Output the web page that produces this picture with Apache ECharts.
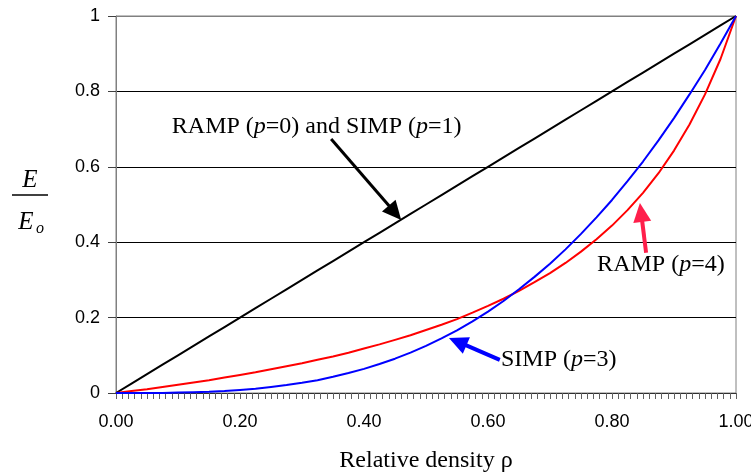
<!DOCTYPE html>
<html>
<head>
<meta charset="utf-8">
<script src="https://cdn.jsdelivr.net/npm/echarts@6/dist/echarts.min.js"></script>
<style>
html,body{margin:0;padding:0;background:#fff;}
#chart{width:751px;height:476px;}
</style>
</head>
<body>
<div id="chart"></div>
<script>
// Relative density values (x)
const rho = [0,0.025,0.05,0.075,0.1,0.125,0.15,0.175,0.2,0.225,0.25,0.275,0.3,0.325,0.35,0.375,0.4,0.425,0.45,0.475,0.5,0.525,0.55,0.575,0.6,0.625,0.65,0.675,0.7,0.725,0.75,0.775,0.8,0.825,0.85,0.875,0.9,0.925,0.95,0.975,1];
// RAMP (p=0) and SIMP (p=1) - black
const rampP0 = [0,0.025,0.05,0.075,0.1,0.125,0.15,0.175,0.2,0.225,0.25,0.275,0.3,0.325,0.35,0.375,0.4,0.425,0.45,0.475,0.5,0.525,0.55,0.575,0.6,0.625,0.65,0.675,0.7,0.725,0.75,0.775,0.8,0.825,0.85,0.875,0.9,0.925,0.95,0.975,1];
// SIMP (p=3) - blue
const simpP3 = [0,0,0,0,0.001,0.002,0.003,0.005,0.008,0.011,0.016,0.021,0.027,0.034,0.043,0.053,0.064,0.077,0.091,0.107,0.125,0.145,0.166,0.19,0.216,0.244,0.275,0.308,0.343,0.381,0.422,0.466,0.512,0.562,0.614,0.67,0.729,0.792,0.857,0.927,1];
// RAMP (p=4) - red
const rampP4 = [0,0.005,0.01,0.016,0.022,0.028,0.034,0.041,0.048,0.055,0.063,0.071,0.079,0.088,0.097,0.107,0.118,0.129,0.141,0.153,0.167,0.181,0.196,0.213,0.231,0.25,0.271,0.294,0.318,0.345,0.375,0.408,0.444,0.485,0.531,0.583,0.643,0.712,0.792,0.886,1];

// Annotations (data coordinates)
const annoTexts = [
  {pos:[0.090,0.706], text:'{n|RAMP (}{i|p}{n|=0) and SIMP (}{i|p}{n|=1)}'},
  {pos:[0.776,0.340], text:'{n|RAMP (}{i|p}{n|=4)}'},
  {pos:[0.621,0.088], text:'{n|SIMP (}{i|p}{n|=3)}'}
];
const arrows = [
  {from:[0.347,0.674], to:[0.460,0.459], color:'#000000', width:3},
  {from:[0.855,0.372], to:[0.845,0.504], color:'#ff1f4b', width:4},
  {from:[0.619,0.088], to:[0.537,0.146], color:'#0000ff', width:4}
];

const chart = echarts.init(document.getElementById('chart'), null, {renderer:'canvas'});
const pair = arr => rho.map((x,i)=>[x, arr[i]]);
const serif = '"Liberation Serif","Times New Roman",serif';
const sans = '"Liberation Sans",Arial,sans-serif';

chart.setOption({
  animation:false,
  backgroundColor:'#ffffff',
  grid:{left:116, right:15, top:16, bottom:83, containLabel:false, outerBoundsMode:'none',
        show:true, borderColor:'#808080', borderWidth:1},
  xAxis:{
    type:'value', min:0, max:1, interval:0.2,
    axisLine:{show:true, onZero:false, lineStyle:{color:'#303030', width:1}},
    axisTick:{show:true, length:6, lineStyle:{color:'#606060'}},
    minorTick:{show:true, splitNumber:20, length:6, lineStyle:{color:'#606060'}},
    splitLine:{show:false},
    axisLabel:{fontFamily:sans, fontSize:18, color:'#000', margin:20, formatter:v=>v.toFixed(2)},
    name:'Relative density ρ', nameLocation:'middle', nameGap:56,
    nameTextStyle:{fontFamily:serif, fontSize:24, color:'#000'}
  },
  yAxis:{
    type:'value', min:0, max:1, interval:0.2,
    axisLine:{show:true, lineStyle:{color:'#808080', width:1}},
    axisTick:{show:true, length:8, lineStyle:{color:'#404040'}},
    splitLine:{show:true, lineStyle:{color:['#303030','#000','#000','#000','#000','#808080'], width:1}},
    axisLabel:{fontFamily:sans, fontSize:18, color:'#000', margin:16}
  },
  series:[
    {type:'line', data:pair(rampP0), symbol:'none', lineStyle:{color:'#000000', width:2}, z:3},
    {type:'line', data:pair(rampP4), symbol:'none', lineStyle:{color:'#ff0000', width:2}, z:4},
    {type:'line', data:pair(simpP3), symbol:'none', lineStyle:{color:'#0000ff', width:2}, z:5}
  ]
});

function drawAnnotations(){
  const g = [];
  const rich = {n:{fontFamily:serif, fontSize:24, fill:'#000'}, i:{fontFamily:serif, fontSize:24, fontStyle:'italic', fill:'#000'}};
  annoTexts.forEach(a=>{
    const p = chart.convertToPixel({gridIndex:0}, a.pos);
    g.push({type:'text', x:p[0], y:p[1], z:20, style:{text:a.text, rich:rich, verticalAlign:'middle', align:'left', fill:'#000'}});
  });
  arrows.forEach(a=>{
    const p0 = chart.convertToPixel({gridIndex:0}, a.from);
    const p1 = chart.convertToPixel({gridIndex:0}, a.to);
    const dx = p1[0]-p0[0], dy = p1[1]-p0[1];
    const len = Math.sqrt(dx*dx+dy*dy);
    const ux = dx/len, uy = dy/len, nx = -uy, ny = ux;
    const L = 19, W = 9;
    const bx = p1[0]-ux*L, by = p1[1]-uy*L;
    g.push({type:'line', z:21, shape:{x1:p0[0], y1:p0[1], x2:bx+ux*2, y2:by+uy*2}, style:{stroke:a.color, lineWidth:a.width}});
    g.push({type:'polygon', z:21, shape:{points:[[p1[0],p1[1]],[bx+nx*W,by+ny*W],[bx-nx*W,by-ny*W]]}, style:{fill:a.color}});
  });
  // y-axis title: E / E_o
  g.push({type:'text', x:30, y:180, z:20, style:{text:'E', fontFamily:serif, fontSize:25, fontStyle:'italic', fill:'#000', align:'center', verticalAlign:'middle'}});
  g.push({type:'line', z:20, shape:{x1:12, y1:195, x2:48, y2:195}, style:{stroke:'#000', lineWidth:1.5}});
  g.push({type:'text', x:26, y:222, z:20, style:{text:'E', fontFamily:serif, fontSize:25, fontStyle:'italic', fill:'#000', align:'center', verticalAlign:'middle'}});
  g.push({type:'text', x:40, y:229, z:20, style:{text:'o', fontFamily:serif, fontSize:16, fontStyle:'italic', fill:'#000', align:'center', verticalAlign:'middle'}});
  chart.setOption({graphic:g});
}
drawAnnotations();
</script>
</body>
</html>
